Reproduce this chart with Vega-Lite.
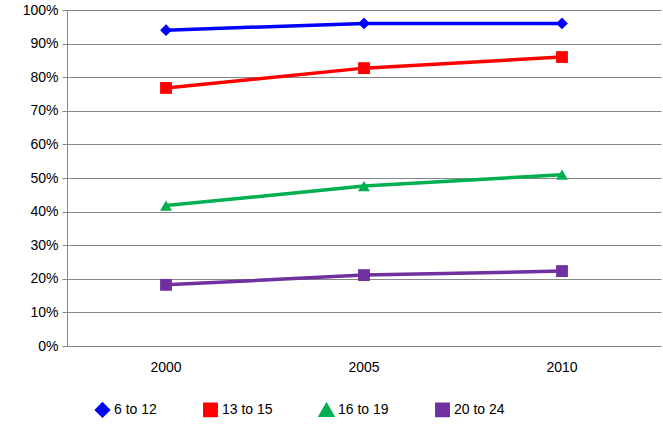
{
"$schema":"https://vega.github.io/schema/vega-lite/v6.json",
"width":663,"height":424,
"autosize":{"type":"fit","contains":"padding"},
"padding":{"left":22,"top":3,"right":2,"bottom":50},
"config":{"font":"Liberation Sans","view":{"stroke":null}},
"data":{"values":[
{"year":"2000","group":"6 to 12","v":0.94},{"year":"2005","group":"6 to 12","v":0.96},{"year":"2010","group":"6 to 12","v":0.96},
{"year":"2000","group":"13 to 15","v":0.768},{"year":"2005","group":"13 to 15","v":0.827},{"year":"2010","group":"13 to 15","v":0.86},
{"year":"2000","group":"16 to 19","v":0.418},{"year":"2005","group":"16 to 19","v":0.476},{"year":"2010","group":"16 to 19","v":0.51},
{"year":"2000","group":"20 to 24","v":0.182},{"year":"2005","group":"20 to 24","v":0.211},{"year":"2010","group":"20 to 24","v":0.223}
]},
"mark":{"type":"line","strokeWidth":3.5,"point":{"size":140,"filled":true,"opacity":1}},
"encoding":{
"x":{"field":"year","type":"ordinal","scale":{"type":"band","paddingInner":0,"paddingOuter":0},"title":null,
 "axis":{"labelAngle":0,"labelFontSize":14,"labelColor":"#000","domainColor":"#888","tickColor":"#888","labelPadding":14,"ticks":false}},
"y":{"field":"v","type":"quantitative","scale":{"domain":[0,1]},"title":null,
 "axis":{"format":".0%","tickCount":10,"labelFontSize":14,"labelColor":"#000","domainColor":"#888","tickColor":"#888","gridColor":"#888","labelPadding":4}},
"color":{"field":"group","type":"nominal","sort":["6 to 12","13 to 15","16 to 19","20 to 24"],
 "scale":{"domain":["6 to 12","13 to 15","16 to 19","20 to 24"],"range":["#0000FF","#FF0000","#00B050","#7030A0"]},
 "legend":{"orient":"none","legendX":28,"legendY":392,"direction":"horizontal","title":null,"labelFontSize":14,"labelColor":"#000","symbolStrokeWidth":3.5,"symbolSize":130,"columnPadding":40}},
"shape":{"field":"group","type":"nominal","sort":["6 to 12","13 to 15","16 to 19","20 to 24"],
 "scale":{"domain":["6 to 12","13 to 15","16 to 19","20 to 24"],"range":["diamond","square","triangle-up","square"]},"legend":null}
}
}
